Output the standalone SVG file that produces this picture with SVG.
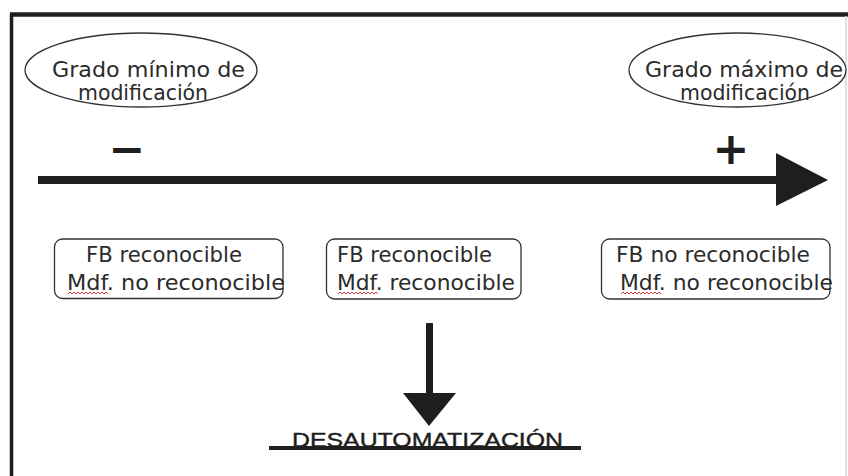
<svg xmlns="http://www.w3.org/2000/svg" width="848" height="476" viewBox="0 0 848 476">
  <style>
    .frame { stroke: #1e1e1e; fill: none; }
    .oval { fill: #ffffff; stroke: #333333; stroke-width: 1.3; }
    .box { fill: #ffffff; stroke: #333333; stroke-width: 1.3; }
    .lbl { font-family: "DejaVu Sans", "Liberation Sans", sans-serif; font-size: 21px; fill: #2b2b2b; }
    .sign { font-family: "DejaVu Sans", sans-serif; font-weight: bold; font-size: 44px; fill: #1e1e1e; text-anchor: middle; }
    .title { font-family: "Liberation Sans", "DejaVu Sans", sans-serif; font-size: 20px; fill: #1e1e1e; stroke: #1e1e1e; stroke-width: 0.4; }
    .spell { fill: none; stroke: #d03a3a; stroke-width: 1; }
    .shaft { stroke: #1e1e1e; fill: none; }
    .head { fill: #1e1e1e; }
  </style>

  <rect x="0" y="0" width="848" height="476" fill="#ffffff"/>

  <!-- outer frame -->
  <g id="frame">
    <line class="frame" x1="11.5" y1="14" x2="11.5" y2="476" stroke-width="3.5"/>
    <line class="frame" x1="10" y1="14.5" x2="848" y2="14.5" stroke-width="4.5"/>
    <line x1="846" y1="16" x2="846" y2="476" stroke="#d6d6d6" stroke-width="1.5"/>
  </g>

  <!-- scale ends -->
  <g id="min-grade">
    <ellipse class="oval" cx="141" cy="70" rx="116" ry="37"/>
    <text class="lbl" x="52" y="77" textLength="193" lengthAdjust="spacingAndGlyphs">Grado mínimo de</text>
    <text class="lbl" x="78" y="100" textLength="130" lengthAdjust="spacingAndGlyphs">modificación</text>
  </g>
  <g id="max-grade">
    <ellipse class="oval" cx="737.5" cy="70" rx="108.5" ry="37"/>
    <text class="lbl" x="645" y="77" textLength="198" lengthAdjust="spacingAndGlyphs">Grado máximo de</text>
    <text class="lbl" x="680" y="100" textLength="130" lengthAdjust="spacingAndGlyphs">modificación</text>
  </g>

  <g id="minus-sign">
    <text class="sign" x="127" y="164">−</text>
  </g>
  <g id="plus-sign">
    <text class="sign" x="731" y="164">+</text>
  </g>

  <!-- categories along the scale -->
  <g id="box-1">
    <rect class="box" x="54.5" y="239" width="228.5" height="59.5" rx="8"/>
    <text class="lbl" x="86" y="262" textLength="156" lengthAdjust="spacingAndGlyphs">FB reconocible</text>
    <text class="lbl" x="67" y="290" textLength="218" lengthAdjust="spacingAndGlyphs">Mdf. no reconocible</text>
    <path class="spell" d="M68 294 l2 -2 l2 2 l2 -2 l2 2 l2 -2 l2 2 l2 -2 l2 2 l2 -2 l2 2 l2 -2 l2 2 l2 -2 l2 2 l2 -2 l2 2 l2 -2 l2 2 l2 -2 l2 2"/>
  </g>
  <g id="box-2">
    <rect class="box" x="326.5" y="239" width="194.5" height="60" rx="8"/>
    <text class="lbl" x="337" y="262" textLength="155" lengthAdjust="spacingAndGlyphs">FB reconocible</text>
    <text class="lbl" x="337" y="290" textLength="178" lengthAdjust="spacingAndGlyphs">Mdf. reconocible</text>
    <path class="spell" d="M338 294 l2 -2 l2 2 l2 -2 l2 2 l2 -2 l2 2 l2 -2 l2 2 l2 -2 l2 2 l2 -2 l2 2 l2 -2 l2 2 l2 -2 l2 2 l2 -2 l2 2 l2 -2 l2 2"/>
  </g>
  <g id="box-3">
    <rect class="box" x="601.5" y="239" width="228.5" height="60" rx="8"/>
    <text class="lbl" x="616" y="262" textLength="194" lengthAdjust="spacingAndGlyphs">FB no reconocible</text>
    <text class="lbl" x="620" y="290" textLength="213" lengthAdjust="spacingAndGlyphs">Mdf. no reconocible</text>
    <path class="spell" d="M621 294 l2 -2 l2 2 l2 -2 l2 2 l2 -2 l2 2 l2 -2 l2 2 l2 -2 l2 2 l2 -2 l2 2 l2 -2 l2 2 l2 -2 l2 2 l2 -2 l2 2 l2 -2 l2 2"/>
  </g>

  <g id="result">
    <text class="title" x="292" y="447" textLength="271" lengthAdjust="spacingAndGlyphs">DESAUTOMATIZACIÓN</text>
    <line x1="269" y1="448" x2="581" y2="448" stroke="#1e1e1e" stroke-width="4"/>
  </g>

  <!-- connectors -->
  <g id="connectors">
    <line class="shaft" x1="38" y1="180" x2="780" y2="180" stroke-width="8"/>
    <polygon class="head" points="776,153 828,180 776,206"/>
    <line class="shaft" x1="429.5" y1="323" x2="429.5" y2="395" stroke-width="7"/>
    <polygon class="head" points="403,393 456,393 429,426"/>
  </g>
</svg>
